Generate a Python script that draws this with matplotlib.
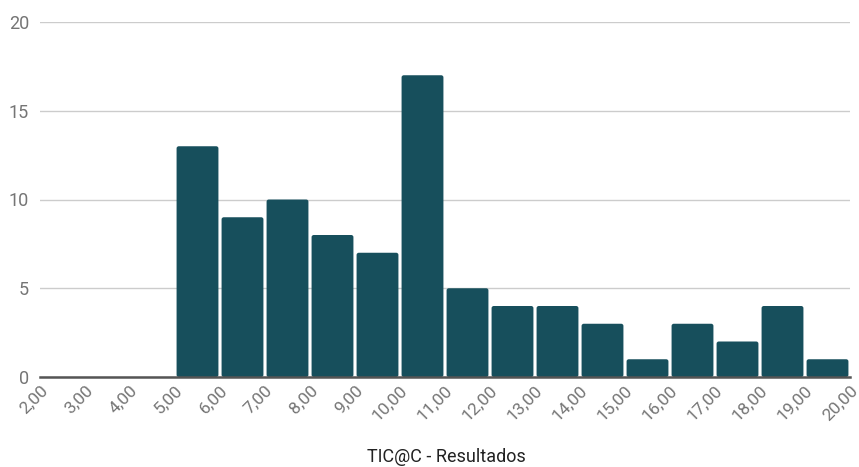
import matplotlib
matplotlib.use("Agg")
import matplotlib.pyplot as plt
from matplotlib.patches import FancyBboxPatch
import numpy as np

plt.rcParams['font.family'] = ['Roboto', 'DejaVu Sans']

# Histogram of results: left bin edges and counts
bin_edges = [2, 3, 4, 5, 6, 7, 8, 9, 10, 11, 12, 13, 14, 15, 16, 17, 18, 19, 20]
counts = [0, 0, 0, 13, 9, 10, 8, 7, 17, 5, 4, 4, 3, 1, 3, 2, 4, 1]
tick_labels = [f"{v},00" for v in bin_edges]
y_ticks = [0, 5, 10, 15, 20]
title = "TIC@C - Resultados"

bar_color = "#174f5c"

fig = plt.figure(figsize=(8.59, 4.67), dpi=100)
ax = fig.add_axes([40 / 859, 1 - 377 / 467, 810 / 859, 355 / 467])
ax.set_xlim(2, 20)
ax.set_ylim(0, 20)

lefts = np.array(bin_edges[:-1], dtype=float)
gap = 0.07
bars = ax.bar(lefts + gap / 2, counts, width=1 - gap, align="edge",
              color=bar_color, linewidth=0, zorder=3)

# Swap each bar for a slightly rounded box with the same geometry
fig.canvas.draw()
bbox = ax.get_window_extent()
px_per_x = bbox.width / (20 - 2)
px_per_y = bbox.height / (20 - 0)
radius_px = 2.2
for rect in bars:
    h = rect.get_height()
    if h <= 0:
        rect.set_visible(False)
        continue
    box = FancyBboxPatch((rect.get_x(), rect.get_y()), rect.get_width(), h,
                         boxstyle=f"round,pad=0,rounding_size={radius_px / px_per_x}",
                         mutation_aspect=px_per_x / px_per_y,
                         facecolor=bar_color, edgecolor="none", zorder=3)
    ax.add_patch(box)
    rect.set_visible(False)

ax.set_yticks(y_ticks)
ax.set_yticklabels([str(v) for v in y_ticks])
ax.set_xticks(bin_edges)
ax.set_xticklabels(tick_labels, rotation=45, ha="right", rotation_mode="anchor")

ax.grid(axis="y", color="#cccccc", linewidth=1.0, zorder=0)
ax.grid(axis="x", visible=False)
for side in ["top", "right", "left"]:
    ax.spines[side].set_visible(False)
ax.spines["bottom"].set_color("#555555")
ax.spines["bottom"].set_linewidth(1.8)
ax.spines["bottom"].set_zorder(4)

ax.tick_params(axis="y", length=0, pad=8, labelsize=13, labelcolor="#757575")
ax.tick_params(axis="x", length=0, pad=4, labelsize=12.5, labelcolor="#757575")

fig.text(446 / 859, 1 - 462 / 467, title, ha="center", va="baseline",
         fontsize=13, color="#222222")

fig.savefig("out.png", dpi=100)
